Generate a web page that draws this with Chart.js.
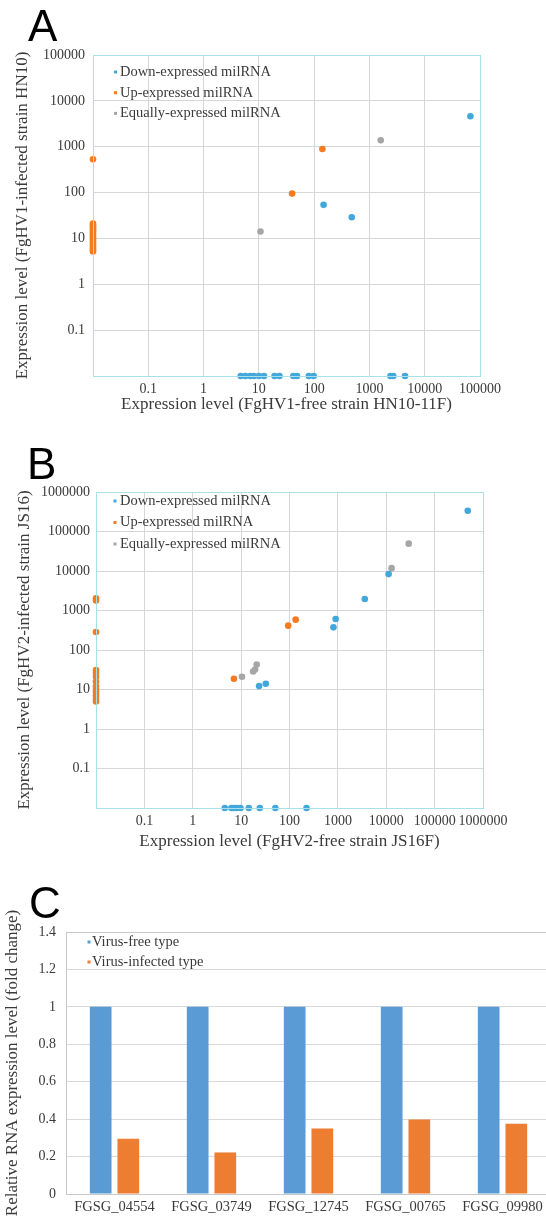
<!DOCTYPE html>
<html>
<head>
<meta charset="utf-8">
<script src="https://cdn.jsdelivr.net/npm/chart.js@4.4.0/dist/chart.umd.min.js"></script>
<style>
  html, body { margin: 0; padding: 0; background: #fff; width: 546px; height: 1228px; overflow: hidden; position: relative; }
  canvas { position: absolute; left: 0; }
  .tag { position: absolute; font: 44px "Liberation Sans", Arial, sans-serif; line-height: 44px; color: #000; }
</style>
</head>
<body>
<canvas id="chartA" width="546" height="425" style="top:0"></canvas>
<canvas id="chartB" width="546" height="440" style="top:425px"></canvas>
<canvas id="chartC" width="556" height="363" style="top:865px"></canvas>
<div class="tag" style="left:28px;top:4px">A</div>
<div class="tag" style="left:27px;top:442px">B</div>
<div class="tag" style="left:29px;top:881px">C</div>
<script>
// zero counts sit on the axis floor (0.01), as in the original plots
// --- panel A: FgHV1-free HN10-11F (x) vs FgHV1-infected HN10 (y)
const aDownX = [4.7, 5.7, 7.0, 8.1, 10, 12.4, 19.2, 23.6, 42, 49, 80, 98, 2400, 2700, 4400, 148, 479, 67000];
const aDownY = [0.01, 0.01, 0.01, 0.01, 0.01, 0.01, 0.01, 0.01, 0.01, 0.01, 0.01, 0.01, 0.01, 0.01, 0.01, 54, 29, 4600];
const aUpX = [0.01, 0.01, 0.01, 0.01, 0.01, 0.01, 0.01, 0.01, 0.01, 0.01, 0.01, 0.01, 0.01, 0.01, 0.01, 0.01, 0.01, 0.01, 40, 141];
const aUpY = [530, 21, 19.5, 18, 16.5, 15, 13.8, 12.6, 11.5, 10.5, 9.6, 8.8, 8, 7.3, 6.7, 6.1, 5.6, 5.2, 95, 890];
const aEqX = [10.7, 1600];
const aEqY = [14.2, 1380];
const aTicks = [0.01, 0.1, 1, 10, 100, 1000, 10000, 100000];

// --- panel B: FgHV2-free JS16F (x) vs FgHV2-infected JS16 (y)
const bDownX = [4.6, 6.3, 7.1, 8.2, 9.7, 14.4, 24.3, 51, 225, 23.5, 32.3, 810, 900, 3600, 11200, 484000];
const bDownY = [0.01, 0.01, 0.01, 0.01, 0.01, 0.01, 0.01, 0.01, 0.01, 12.2, 14, 375, 610, 1950, 8340, 335000];
const bUpX = [0.01, 0.01, 0.01, 0.01, 0.01, 0.01, 0.01, 0.01, 0.01, 0.01, 0.01, 0.01, 0.01, 7.1, 94, 134];
const bUpY = [2050, 1790, 285, 31, 26, 21, 16, 12, 10, 8.6, 7.1, 5.8, 5.0, 18.7, 414, 586];
const bEqX = [10.4, 17.7, 19.4, 21, 12900, 29100];
const bEqY = [21, 28.6, 32, 43, 11800, 49300];
const bTicks = [0.01, 0.1, 1, 10, 100, 1000, 10000, 100000, 1000000];

// --- panel C: qRT-PCR fold change
const genes = ['FGSG_04554', 'FGSG_03749', 'FGSG_12745', 'FGSG_00765', 'FGSG_09980'];
const virusFree = [1, 1, 1, 1, 1];
const virusInfected = [0.295, 0.222, 0.35, 0.398, 0.375];
const cTicks = [0, 0.2, 0.4, 0.6, 0.8, 1, 1.2, 1.4];

const SERIF = '"Liberation Serif", "Times New Roman", serif';
const INK = '#3a3a3a';
const BLUE = '#42a8db', ORANGE = '#f47b20', GREY = '#a6a6a6';

// border round the plot area
const frame = {
  id: 'frame',
  afterDatasetsDraw(chart, args, o) {
    const { left, top, right, bottom } = chart.chartArea;
    const ctx = chart.ctx;
    ctx.save();
    ctx.strokeStyle = o.color;
    ctx.lineWidth = 1;
    ctx.strokeRect(Math.round(left) + 0.5, Math.round(top) + 0.5, Math.round(right - left), Math.round(bottom - top));
    ctx.restore();
  }
};

// Excel style legend drawn inside the plot
const insideLegend = {
  id: 'insideLegend',
  afterDraw(chart, args, o) {
    const ctx = chart.ctx;
    ctx.save();
    ctx.font = o.font;
    ctx.textBaseline = 'middle';
    chart.data.datasets.forEach((ds, i) => {
      const y = o.y + i * o.gap;
      ctx.fillStyle = ds.backgroundColor;
      ctx.fillRect(o.x - o.box / 2, y - o.box / 2, o.box, o.box);
      ctx.fillStyle = INK;
      ctx.fillText(ds.label, o.textX, y);
    });
    ctx.restore();
  }
};

const pts = (xs, ys) => xs.map((x, i) => ({ x: x, y: ys[i] }));

function scatterPanel(id, c) {
  return new Chart(document.getElementById(id), {
    type: 'scatter',
    data: {
      datasets: [
        { label: 'Down-expressed milRNA', data: pts(c.down[0], c.down[1]), backgroundColor: BLUE, clip: false },
        { label: 'Up-expressed milRNA', data: pts(c.up[0], c.up[1]), backgroundColor: ORANGE, clip: false },
        { label: 'Equally-expressed milRNA', data: pts(c.eq[0], c.eq[1]), backgroundColor: GREY, clip: false }
      ]
    },
    options: {
      responsive: false,
      animation: false,
      devicePixelRatio: 1,
      layout: { padding: c.padding },
      elements: { point: { radius: 3.3, hoverRadius: 3.3, borderWidth: 0 } },
      plugins: {
        legend: { display: false },
        tooltip: { enabled: false },
        frame: { color: '#a9dfe7' },
        insideLegend: c.legend
      },
      scales: {
        x: {
          type: 'logarithmic',
          min: c.ticks[0], max: c.ticks[c.ticks.length - 1],
          afterBuildTicks: s => { s.ticks = c.ticks.map(v => ({ value: v })); },
          afterFit: s => { s.height = c.xHeight; },
          grid: { color: '#d6d6d6', drawTicks: false },
          border: { display: false },
          ticks: { autoSkip: false, maxRotation: 0, padding: 5, color: INK, font: { family: SERIF, size: 14 },
                   callback: v => v === c.ticks[0] ? '' : String(v) },
          title: { display: true, text: c.xTitle, color: INK, font: { family: SERIF, size: 17 }, padding: 0 }
        },
        y: {
          type: 'logarithmic',
          min: c.yTicks[0], max: c.yTicks[c.yTicks.length - 1],
          afterBuildTicks: s => { s.ticks = c.yTicks.map(v => ({ value: v })); },
          afterFit: s => { s.width = c.yWidth; },
          grid: { color: '#d6d6d6', drawTicks: false },
          border: { display: false },
          ticks: { autoSkip: false, padding: c.yPad, color: INK, font: { family: SERIF, size: 14 },
                   callback: v => v === c.yTicks[0] ? '' : String(v) },
          title: { display: true, text: c.yTitle, color: INK, font: { family: SERIF, size: 17 }, padding: { top: c.yTitlePad, bottom: 0 } }
        }
      }
    },
    plugins: [frame, insideLegend]
  });
}

scatterPanel('chartA', {
  down: [aDownX, aDownY], up: [aUpX, aUpY], eq: [aEqX, aEqY],
  ticks: aTicks, yTicks: aTicks,
  padding: { left: 0, top: 55, right: 66, bottom: 10 },
  xHeight: 39, yWidth: 93, yPad: 8, yTitlePad: 12,
  xTitle: 'Expression level (FgHV1-free strain HN10-11F)',
  yTitle: 'Expression level (FgHV1-infected strain HN10)',
  legend: { x: 115.5, textX: 120, y: 72, gap: 20.7, box: 3, font: '14.5px ' + SERIF }
});

scatterPanel('chartB', {
  down: [bDownX, bDownY], up: [bUpX, bUpY], eq: [bEqX, bEqY],
  ticks: bTicks, yTicks: bTicks,
  padding: { left: 0, top: 67, right: 63, bottom: 13 },
  xHeight: 44, yWidth: 96, yPad: 6, yTitlePad: 14,
  xTitle: 'Expression level (FgHV2-free strain JS16F)',
  yTitle: 'Expression level (FgHV2-infected strain JS16)',
  legend: { x: 115, textX: 120, y: 76, gap: 21.5, box: 3, font: '14.5px ' + SERIF }
});

new Chart(document.getElementById('chartC'), {
  type: 'bar',
  data: {
    labels: genes,
    datasets: [
      { label: 'Virus-free type', data: virusFree, backgroundColor: '#5b9bd5', categoryPercentage: 0.57, barPercentage: 0.785 },
      { label: 'Virus-infected type', data: virusInfected, backgroundColor: '#ed7d31', categoryPercentage: 0.57, barPercentage: 0.785 }
    ]
  },
  options: {
    responsive: false,
    animation: false,
    devicePixelRatio: 1,
    layout: { padding: { left: 0, top: 67, right: 5, bottom: 0 } },
    plugins: {
      legend: { display: false },
      tooltip: { enabled: false },
      frame: { color: '#c9c9c9' },
      insideLegend: { x: 89, textX: 92, y: 77, gap: 20, box: 3, font: '14.5px ' + SERIF }
    },
    scales: {
      x: {
        afterFit: s => { s.height = 34; },
        grid: { display: false, drawTicks: false },
        border: { color: '#a6a6a6' },
        ticks: { autoSkip: false, maxRotation: 0, padding: 4, color: INK, font: { family: SERIF, size: 14.5 } }
      },
      y: {
        min: 0, max: 1.4,
        afterBuildTicks: s => { s.ticks = cTicks.map(v => ({ value: v })); },
        afterFit: s => { s.width = 66; },
        grid: { color: '#d9d9d9', drawTicks: false },
        border: { display: false },
        ticks: { padding: 10, color: INK, font: { family: SERIF, size: 14 }, callback: v => String(v) },
        title: { display: true, text: 'Relative RNA expression level (fold change)', color: INK,
                 font: { family: SERIF, size: 17 }, padding: { top: 2, bottom: 0 } }
      }
    }
  },
  plugins: [frame, insideLegend]
});
</script>
</body>
</html>
